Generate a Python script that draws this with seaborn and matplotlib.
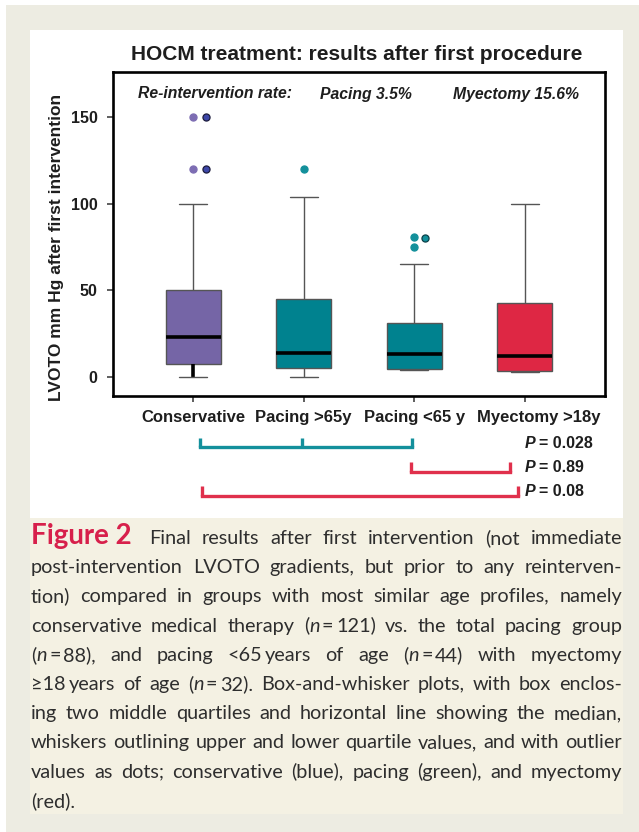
import numpy as np
import pandas as pd
import matplotlib
matplotlib.use('Agg')
import matplotlib.pyplot as plt
import matplotlib.transforms as mtransforms
from matplotlib.patches import Rectangle
import seaborn as sns

W, H = 639, 832

# ---- data ----
groups = ['Conservative', 'Pacing >65y', 'Pacing <65 y', 'Myectomy >18y']
box_colors = ['#7565a6', '#00828f', '#00828f', '#de2744']

# observations chosen so quartiles / whiskers match the printed boxes
conservative = [0, 2, 5, 7.5, 12, 18, 23, 32, 42, 50, 100, 120, 150]
pacing_over65 = [0, 2, 3, 5, 8, 11, 14, 20, 30, 45, 70, 104, 120]
pacing_under65 = [4, 4.2, 4.3, 4.5, 4.6, 6, 9, 11, 13, 17, 22, 27, 31, 65, 75, 80, 81]
myectomy = [2.7, 3, 3.4, 3.7, 5, 8, 12.3, 18, 28, 42.6, 60, 80, 100]

# outlier dots as printed (two overlaid series in the original)
outlier_group = ['Conservative', 'Conservative', 'Pacing >65y', 'Pacing <65 y',
                 'Pacing <65 y', 'Conservative', 'Conservative', 'Pacing <65 y']
outlier_value = [150, 120, 120, 81, 75, 150, 120, 80]
outlier_kind = ['light', 'light', 'teal', 'teal', 'teal', 'dark', 'dark', 'teal_dark']

reint_labels = ['Re-intervention rate:', 'Pacing 3.5%', 'Myectomy 15.6%']
p_values = ['0.028', '0.89', '0.08']
yticks = [0, 50, 100, 150]

# comparison brackets (tick positions on the category axis)
bracket_x = [[0.06, 0.98, 1.98], [1.97, 2.87], [0.08, 2.94]]
bracket_colors = ['#14909c', '#e0304c', '#e0304c']

caption_lines = [
    'Final results after first intervention (not immediate',
    'post-intervention LVOTO gradients, but prior to any reinterven-',
    'tion) compared in groups with most similar age profiles, namely',
    'conservative medical therapy (*n*=121) vs. the total pacing group',
    '(*n*=88), and pacing <65~years of age (*n*=44) with myectomy',
    '\u226518~years of age (*n*=32). Box-and-whisker plots, with box enclos-',
    'ing two middle quartiles and horizontal line showing the median,',
    'whiskers outlining upper and lower quartile values, and with outlier',
    'values as dots; conservative (blue), pacing (green), and myectomy',
    '(red).',
]


def fx(px):
    return px / W


def fy(py):
    return 1 - py / H


sns.set_theme(style='white')
plt.rcParams['font.family'] = ['Liberation Sans', 'DejaVu Sans']

df = pd.DataFrame({
    'group': ([groups[0]] * len(conservative) + [groups[1]] * len(pacing_over65)
              + [groups[2]] * len(pacing_under65) + [groups[3]] * len(myectomy)),
    'value': conservative + pacing_over65 + pacing_under65 + myectomy,
})

fig = plt.figure(figsize=(W / 100, H / 100), dpi=100)
fig.patch.set_facecolor('white')

# page background, white chart panel, caption panel
fig.add_artist(Rectangle((fx(6), 0), 1 - fx(6), fy(5), transform=fig.transFigure,
                         facecolor='#edece2', edgecolor='none', zorder=-20))
fig.add_artist(Rectangle((fx(30), fy(518)), fx(593), (518 - 30) / H, transform=fig.transFigure,
                         facecolor='white', edgecolor='none', zorder=-10))
fig.add_artist(Rectangle((fx(30), fy(814)), fx(593), (814 - 518) / H, transform=fig.transFigure,
                         facecolor='#f4f1e3', edgecolor='none', zorder=-10))

ax_left, ax_right, ax_top, ax_bottom = 113, 605, 72, 396
ax = fig.add_axes([fx(ax_left), fy(ax_bottom), fx(ax_right - ax_left), (ax_bottom - ax_top) / H])
ax.set_facecolor('white')

sns.boxplot(data=df, x='group', y='value', hue='group', order=groups, hue_order=groups,
            palette=box_colors, legend=False, width=0.5, showfliers=False,
            linecolor='#555555', linewidth=1.0, saturation=1,
            medianprops=dict(color='black', linewidth=2.6), ax=ax)

# the conservative lower whisker is drawn heavy in the original
for ln in ax.lines:
    xd, yd = np.asarray(ln.get_xdata()), np.asarray(ln.get_ydata())
    if len(xd) == 2 and np.allclose(xd, 0) and np.isclose(min(yd), 0) and np.isclose(max(yd), 7.5):
        ln.set_color('black')
        ln.set_linewidth(2.6)

kind_style = {
    'light': dict(shift=0.0, face='#7d6db3', edge='#7d6db3'),
    'dark': dict(shift=0.12, face='#3d47a8', edge='#1c1c3c'),
    'teal': dict(shift=0.0, face='#13909b', edge='#13909b'),
    'teal_dark': dict(shift=0.095, face='#13909b', edge='#0b4048'),
}
odf = pd.DataFrame({'group': outlier_group, 'value': outlier_value, 'kind': outlier_kind})
odf['pos'] = odf['group'].map({g: i for i, g in enumerate(groups)})
for kind, st in kind_style.items():
    sub = odf[odf['kind'] == kind]
    sns.scatterplot(x=sub['pos'] + st['shift'], y=sub['value'], color=st['face'],
                    edgecolor=st['edge'], linewidth=0.9, s=26, zorder=5, ax=ax)

ax.set_xlim(-0.726, 3.726)
ax.set_ylim(-11, 176)
ax.set_yticks(yticks)
ax.set_xlabel('')
ax.set_ylabel('')
for side in ['left', 'right', 'top', 'bottom']:
    ax.spines[side].set_visible(True)
    ax.spines[side].set_color('black')
    ax.spines[side].set_linewidth(1.9)
ax.tick_params(axis='both', direction='out', length=4, width=1.1, color='#333333',
               bottom=True, left=True, labelcolor='#1e1e1e')
ax.tick_params(axis='x', pad=6, labelsize=12)
ax.tick_params(axis='y', pad=7, labelsize=11.5)
for lab in ax.get_xticklabels() + ax.get_yticklabels():
    lab.set_fontweight('bold')
# last category label sits a little right of its tick in the original
last = ax.get_xticklabels()[-1]
last.set_transform(last.get_transform() + mtransforms.ScaledTranslation(14 / 100, 0, fig.dpi_scale_trans))

# titles and labels
fig.text(fx(357), fy(55), 'HOCM treatment: results after first procedure', ha='center', va='center',
         fontsize=15, fontweight='bold', color='#1e1e1e')
fig.text(fx(57), fy(247), 'LVOTO mm Hg after first intervention', rotation=90, ha='center', va='center',
         fontsize=12.5, fontweight='bold', color='#1e1e1e')
for lab, px in zip(reint_labels, [138, 320, 453]):
    fig.text(fx(px), fy(94), lab, ha='left', va='center', fontsize=11.3,
             fontweight='bold', fontstyle='italic', color='#1e1e1e')

# comparison brackets below the axis
ax2 = fig.add_axes([fx(ax_left), fy(510), fx(ax_right - ax_left), (510 - 425) / H])
ax2.set_xlim(ax.get_xlim())
ax2.set_ylim(510, 425)
ax2.axis('off')
bracket_base = [446.5, 472, 496]
bracket_top = [438, 462, 486]
p_y = [443, 468, 492]
for xs, c, yb, yt in zip(bracket_x, bracket_colors, bracket_base, bracket_top):
    ax2.plot([xs[0], xs[-1]], [yb, yb], color=c, lw=2.4, solid_capstyle='projecting')
    for x in xs:
        ax2.plot([x, x], [yb, yt], color=c, lw=2.4, solid_capstyle='butt')

renderer = fig.canvas.get_renderer()


def text_width(s, **kw):
    t = fig.text(0, 0, s, **kw)
    w = t.get_window_extent(renderer).width
    t.remove()
    return w


p_font = dict(fontsize=11.5, fontweight='bold', color='#1e1e1e')
for pv, yc in zip(p_values, p_y):
    x0 = ax2.transData.transform((3.0, 0))[0]
    fig.text(x0 / W, fy(yc), 'P', ha='left', va='center', fontstyle='italic', **p_font)
    wp = text_width('P', fontstyle='italic', **p_font)
    fig.text((x0 + wp + 4) / W, fy(yc), '= ' + pv, ha='left', va='center', **p_font)

# caption with justified lines
cap_family = ['Lato', 'DejaVu Sans']
# size the caption so a "tight" line of the original fills the column
ref_w = text_width(caption_lines[7].replace('*', ''), family=cap_family, fontsize=14)
cap_size = 14 * 588 / ref_w
cap_base = dict(family=cap_family, fontsize=cap_size, color='#2e2e2e')


def parse_word(word):
    segs = []
    italic = False
    buf = ''
    gap = 0.0
    for ch in word:
        if ch in '*~=':
            if buf:
                segs.append((buf, italic, gap))
                buf = ''
                gap = 0.0
            if ch == '*':
                italic = not italic
            elif ch == '~':
                gap += 3.0
            else:
                segs.append(('=', False, 2.5))
                gap = 2.5
        else:
            buf += ch
    if buf:
        segs.append((buf, italic, gap))
    return segs


def seg_kw(italic):
    kw = dict(cap_base)
    kw['fontstyle'] = 'italic' if italic else 'normal'
    return kw


def draw_line(line, x0, x1, baseline, justify=True):
    words = [parse_word(w) for w in line.split(' ')]
    widths = []
    for segs in words:
        widths.append([text_width(s, **seg_kw(it)) for s, it, g in segs])
    totals = [sum(w) + sum(g for _, _, g in segs) for w, segs in zip(widths, words)]
    if justify and len(words) > 1:
        space = (x1 - x0 - sum(totals)) / (len(words) - 1)
    else:
        space = text_width('a a', **cap_base) - 2 * text_width('a', **cap_base)
    x = x0
    for segs, ws, tot in zip(words, widths, totals):
        xs = x
        for (s, it, g), w in zip(segs, ws):
            xs += g
            fig.text(fx(xs), fy(baseline), s, ha='left', va='baseline', **seg_kw(it))
            xs += w
        x += tot + space


fig_font = dict(family=cap_family, fontweight='bold')
fig_size = 17 * 101 / text_width('Figure 2', fontsize=17, **fig_font)
fig.text(fx(31), fy(544), 'Figure 2', ha='left', va='baseline', fontsize=fig_size,
         color='#d7204b', **fig_font)
for i, line in enumerate(caption_lines):
    x0 = 149 if i == 0 else 31
    draw_line(line, x0, 622, 544 + i * 29.2, justify=(i < len(caption_lines) - 1))

fig.savefig('out.png', dpi=100)
